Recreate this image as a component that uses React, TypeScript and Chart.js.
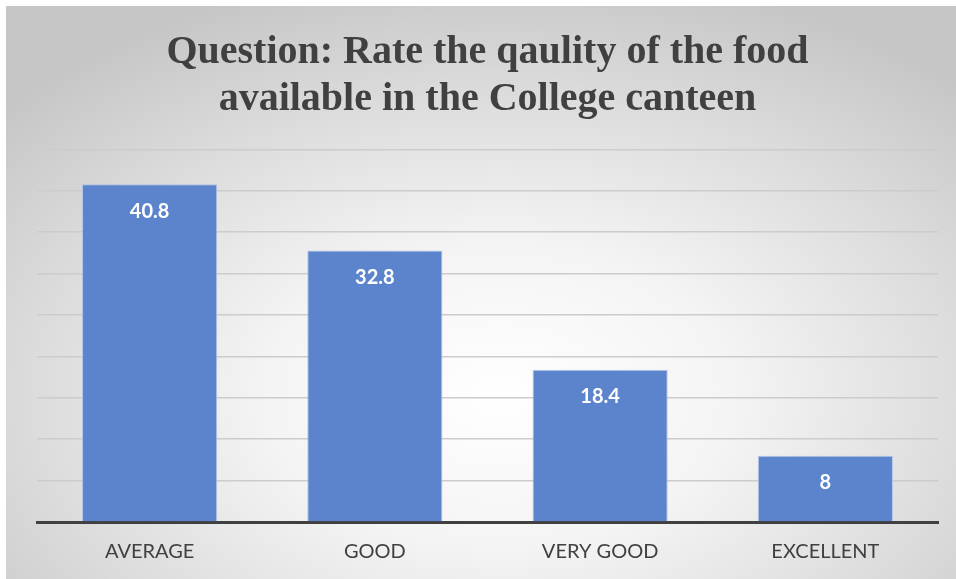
import React, { useEffect, useRef } from "react";
import { Chart, registerables } from "chart.js";

Chart.register(...registerables);

const categories = ["AVERAGE", "GOOD", "VERY GOOD", "EXCELLENT"];
const values = [40.8, 32.8, 18.4, 8];
const yMax = 45;
const yStep = 5;
const titleLines = ["Question: Rate the qaulity of the food", "available in the College canteen"];

const dataLabelPlugin = {
  id: "dataLabels",
  afterDatasetsDraw(chart: any) {
    const ctx = chart.ctx;
    const meta = chart.getDatasetMeta(0);
    ctx.save();
    ctx.fillStyle = "#ffffff";
    ctx.font = "bold 20px Lato";
    ctx.textAlign = "center";
    ctx.textBaseline = "middle";
    meta.data.forEach((bar: any, i: number) => {
      ctx.fillText(String(values[i]), bar.x, bar.y + 27);
    });
    ctx.restore();
  },
};

export default function App() {
  const ref = useRef<HTMLCanvasElement | null>(null);
  useEffect(() => {
    if (!ref.current) return;
    const chart = new Chart(ref.current, {
      type: "bar",
      data: {
        labels: categories,
        datasets: [
          {
            data: values,
            backgroundColor: "rgb(91,132,204)",
            borderColor: "rgba(170,192,230,0.9)",
            borderWidth: 1,
            barPercentage: 0.6,
            categoryPercentage: 1,
          },
        ],
      },
      options: {
        animation: false,
        responsive: false,
        maintainAspectRatio: false,
        layout: { padding: { left: 31, right: 18, top: 0, bottom: -3 } },
        plugins: {
          legend: { display: false },
          tooltip: { enabled: false },
          title: {
            display: true,
            text: titleLines,
            color: "#404040",
            font: { family: "'Liberation Serif', serif", size: 40, weight: "bold", lineHeight: 1.18 },
            padding: { top: 23, bottom: 26 },
          },
        },
        scales: {
          x: {
            grid: { display: false, drawTicks: false },
            border: { display: true, color: "#404040", width: 3 },
            ticks: {
              color: "#404040",
              font: { family: "Lato", size: 20 },
              padding: 18,
            },
          },
          y: {
            min: 0,
            max: yMax,
            ticks: { display: false, stepSize: yStep },
            grid: { color: "#cccccc", lineWidth: 1.5, drawTicks: false },
            border: { display: false },
          },
        },
      },
      plugins: [dataLabelPlugin],
    });
    return () => chart.destroy();
  }, []);
  return (
    <div
      style={{
        position: "fixed",
        left: 6,
        top: 6,
        width: 950,
        height: 573,
        background: "radial-gradient(ellipse 70% 75% at 52% 68%, #ffffff 0%, #f4f4f4 35%, #dcdcdc 70%, #c6c6c6 100%)",
      }}
    >
      <canvas ref={ref} width={950} height={573} style={{ display: "block" }} />
    </div>
  );
}
